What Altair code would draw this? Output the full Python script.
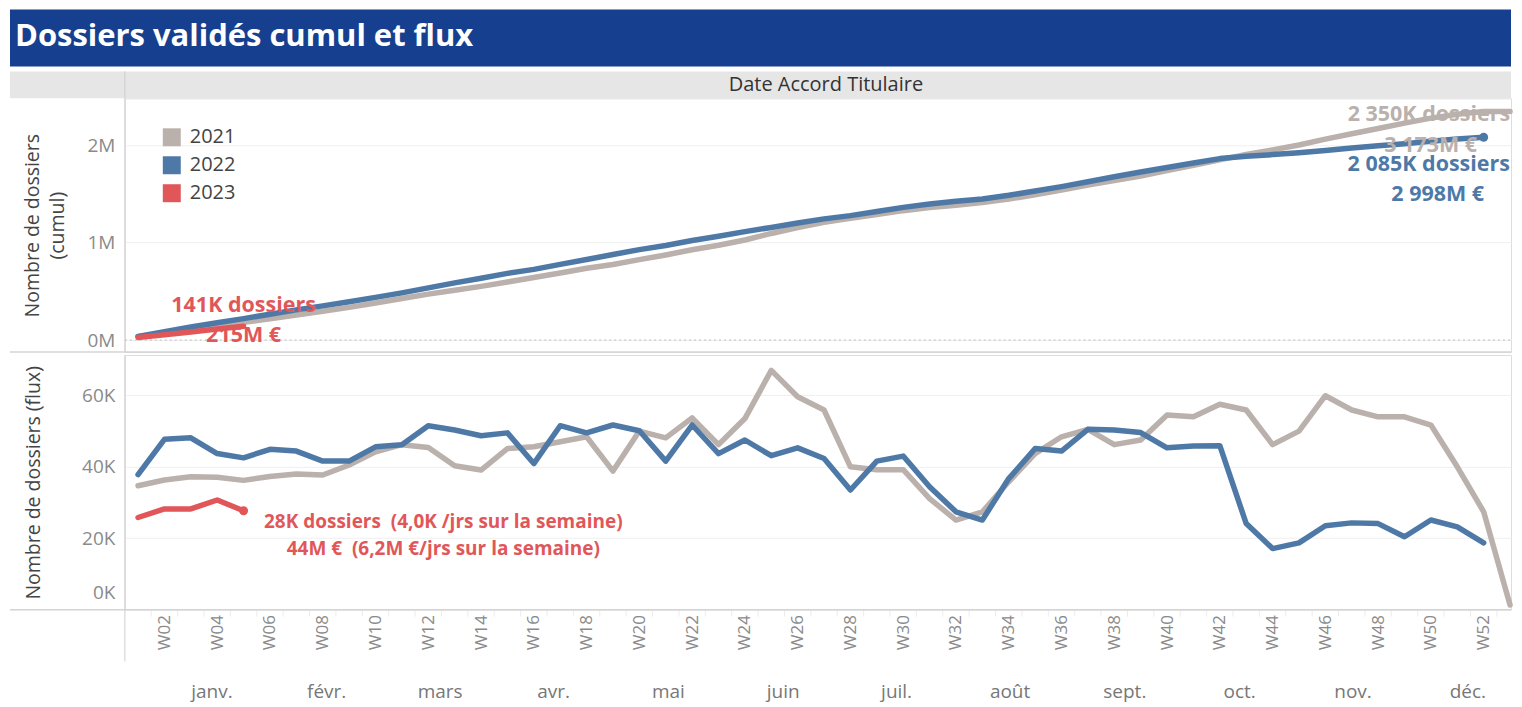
import altair as alt
import pandas as pd

# ---------------- data (in thousands of dossiers) ----------------
years = ["2021", "2022", "2023"]
colors = ["#BAB0AC", "#4E79A7", "#E15759"]

flux_2021 = [34.7, 36.3, 37.2, 37.1, 36.2, 37.3, 38.0, 37.7, 40.5, 44.2, 46.2, 45.4, 40.3, 39.1,
             45.1, 45.6, 47.0, 48.4, 38.8, 50.0, 48.1, 53.7, 46.2, 53.5, 67.0, 59.6, 55.9, 40.0,
             39.2, 39.2, 31.1, 25.1, 27.4,
             35.8, 43.7, 48.4, 50.5, 46.2, 47.5, 54.5, 54.0, 57.5, 55.9, 46.2, 50.0, 59.9, 55.9,
             54.0, 54.0, 51.7, 40.0, 27.4, 1.3]
flux_2022 = [37.8, 47.7, 48.1, 43.7, 42.5, 44.9, 44.4, 41.6, 41.6, 45.6, 46.2, 51.5, 50.3, 48.7,
             49.5, 40.9, 51.5, 49.5, 51.7, 50.1, 41.6, 51.7, 43.7, 47.5, 43.1, 45.3, 42.3, 33.5,
             41.6, 43.0, 34.4, 27.4, 25.1,
             36.7, 45.1, 44.4, 50.5, 50.3, 49.6, 45.3, 45.8, 45.9, 24.1, 17.1, 18.7, 23.5, 24.3,
             24.1, 20.4, 25.1, 23.2, 18.7]
flux_2023 = [25.8, 28.2, 28.2, 30.7, 27.7]

end_line1 = ["2 350K dossiers", "2 085K dossiers", "141K dossiers"]
end_line2 = ["3 173M €", "2 998M €", "215M €"]
flux_note = ["28K dossiers \u00a0(4,0K /jrs sur la semaine)", "44M € \u00a0(6,2M €/jrs sur la semaine)"]

month_labels = ["janv.", "févr.", "mars", "avr.", "mai", "juin", "juil.", "août", "sept.",
                "oct.", "nov.", "déc."]
month_pos = [3.8, 8.15, 12.45, 16.75, 21.1, 25.45, 29.75, 34.05, 38.4, 42.75, 47.05, 51.4]

cumul_ticks = [0, 1000000, 2000000]
flux_ticks = [0, 20000, 40000, 60000]
week_ticks = list(range(1, 54))
week_bounds = [w + 0.5 for w in range(1, 53)]

title_text = "Dossiers validés cumul et flux"
header_text = "Date Accord Titulaire"

# ---------------- tables ----------------
rows = []
for y, f in zip(years, [flux_2021, flux_2022, flux_2023]):
    for i, v in enumerate(f):
        rows.append({"year": y, "week": i + 1, "flux": v * 1000})
df = pd.DataFrame(rows)
df["cumul"] = df.groupby("year")["flux"].cumsum()
last = df[df["week"] == df.groupby("year")["week"].transform("max")].copy()
last["lab1"] = last["year"].map(dict(zip(years, end_line1)))
last["lab2"] = last["year"].map(dict(zip(years, end_line2)))
last["note1"] = flux_note[0]
last["note2"] = flux_note[1]
months = pd.DataFrame({"m": month_labels, "pos": month_pos})
bounds = pd.DataFrame({"b": week_bounds})
one = pd.DataFrame({"k": [0]})

# ---------------- layout ----------------
W, HT, HB = 1388, 254, 255
L, R = -115, 1388
FONT = "Open Sans"
WEEK_PX = 26.42

xsc = alt.Scale(domain=[0.5, 0.5 + W / WEEK_PX], nice=False, zero=False)
csc = alt.Scale(domain=years, range=colors)
ysc_top = alt.Scale(domain=[-123000, 2480000], nice=False, zero=False)
ysc_bot = alt.Scale(domain=[0, 71300], nice=False, zero=False)

x_top = alt.X("week:Q", scale=xsc, axis=None)
yax_top = alt.Axis(values=cumul_ticks, labelExpr="datum.value / 1000000 + 'M'",
                   title=["Nombre de dossiers", "(cumul)"], grid=True, gridColor="#efefef",
                   domain=False, ticks=False, labelFontSize=19, labelColor="#8a8a8a",
                   labelPadding=10, labelFont=FONT, titleFont=FONT, titleFontSize=19.5,
                   titleColor="#444", titleFontWeight="normal", titleAngle=270,
                   titleX=-101, titleY=HT / 2, titleAlign="center", titleBaseline="top",
                   titleLineHeight=25)
y_top = alt.Y("cumul:Q", scale=ysc_top, axis=yax_top)

# decorations of the top panel
title_bar = alt.Chart(one).mark_rect(color="#173F8F").encode(
    x=alt.value(L), x2=alt.value(R), y=alt.value(-89), y2=alt.value(-32))
title_txt = alt.Chart(one).mark_text(
    text=title_text, align="left", baseline="middle", font=FONT, fontWeight="bold",
    fontSize=31, color="white").encode(x=alt.value(L + 5), y=alt.value(-61))
header_bar = alt.Chart(one).mark_rect(color="#e6e6e6").encode(
    x=alt.value(L), x2=alt.value(R), y=alt.value(-27), y2=alt.value(0))
header_txt = alt.Chart(one).mark_text(
    text=header_text, align="center", baseline="middle", font=FONT, fontSize=20,
    color="#333").encode(x=alt.value(702), y=alt.value(-13))
divider_top = alt.Chart(one).mark_rule(color="#d0d0d0").encode(
    x=alt.value(0), y=alt.value(-27), y2=alt.value(HT))
sep_top = alt.Chart(one).mark_rule(color="#d4d4d4", strokeWidth=1.5).encode(
    x=alt.value(L), x2=alt.value(R), y=alt.value(HT))
zero_rule = alt.Chart(one).mark_rule(color="#bdbdbd", strokeDash=[2, 3]).encode(
    x=alt.value(0), x2=alt.value(W), y=alt.datum(0))

legend_top = alt.Legend(
    orient="none", legendX=37, legendY=29, title=None, symbolType="square",
    symbolSize=324, symbolStrokeWidth=0, symbolOpacity=1, labelFontSize=20,
    labelColor="#444", labelFont=FONT, rowPadding=8, labelOffset=8, padding=0)

legend_keys = alt.Chart(last).mark_square(filled=True, size=1, opacity=0).encode(
    x=x_top, y=y_top, color=alt.Color("year:N", scale=csc, legend=legend_top))

lines_top = alt.Chart(df).mark_line(strokeWidth=5.5, strokeCap="round", strokeJoin="round").encode(
    x=x_top, y=y_top, color=alt.Color("year:N", scale=csc, legend=None), detail="year:N")

dot_top = alt.Chart(last).transform_filter(alt.datum.year == "2022").mark_circle(
    size=80, opacity=1, color=colors[1]).encode(x=x_top, y=y_top)


def end_text(year, field, dx, dy, color, align="center"):
    return alt.Chart(last).transform_filter(alt.datum.year == year).mark_text(
        dx=dx, dy=dy, align=align, baseline="middle", font=FONT, fontWeight="bold",
        fontSize=21.5, color=color).encode(x=x_top, y=y_top, text=alt.Text(field + ":N"))


texts_top = [
    end_text("2021", "lab1", 0, 4, colors[0], "right"),
    end_text("2021", "lab2", -33, 35, colors[0], "right"),
    end_text("2022", "lab1", -55, 28, colors[1]),
    end_text("2022", "lab2", -46, 58, colors[1]),
    end_text("2023", "lab1", 0, -20, colors[2]),
    end_text("2023", "lab2", 0, 10, colors[2]),
]

top = alt.layer(title_bar, header_bar, title_txt, header_txt, divider_top, zero_rule,
                sep_top, legend_keys, lines_top, dot_top, *texts_top).properties(width=W, height=HT)

# ---------------- bottom panel ----------------
xax_bot = alt.Axis(values=week_ticks,
                   labelExpr="datum.value % 2 == 0 ? 'W' + (datum.value < 10 ? '0' : '') + datum.value : ''",
                   labelAngle=270, labelFontSize=17, labelColor="#8a8a8a", labelFont=FONT,
                   ticks=False, labelPadding=5, domain=False, grid=False, title=None)
x_bot = alt.X("week:Q", scale=xsc, axis=xax_bot)
yax_bot = alt.Axis(values=flux_ticks, labelExpr="datum.value / 1000 + 'K'",
                   title="Nombre de dossiers (flux)", grid=True, gridColor="#efefef",
                   domain=False, ticks=False, labelFontSize=19, labelColor="#8a8a8a",
                   labelPadding=10, labelFont=FONT, labelFlush=True, labelFlushOffset=-7,
                   titleFont=FONT, titleFontSize=19.5, titleColor="#444",
                   titleFontWeight="normal", titleAngle=270, titleX=-100, titleY=HB / 2,
                   titleAlign="center", titleBaseline="top")
y_bot = alt.Y("flux:Q", scale=ysc_bot, axis=yax_bot)

sep_bot = alt.Chart(one).mark_rule(color="#d4d4d4", strokeWidth=1.5).encode(
    x=alt.value(L), x2=alt.value(R), y=alt.value(HB))
divider_bot = alt.Chart(one).mark_rule(color="#d0d0d0").encode(
    x=alt.value(0), y=alt.value(0), y2=alt.value(HB + 52))
week_marks = alt.Chart(bounds).mark_rule(color="#ececec").encode(
    x=alt.X("b:Q", scale=xsc, axis=xax_bot), y=alt.value(HB), y2=alt.value(HB + 7))

lines_bot = alt.Chart(df).mark_line(strokeWidth=5.5, strokeCap="round", strokeJoin="round").encode(
    x=x_bot, y=y_bot, color=alt.Color("year:N", scale=csc, legend=None), detail="year:N")
dot_bot = alt.Chart(last).transform_filter(alt.datum.year == "2023").mark_circle(
    size=80, opacity=1, color=colors[2]).encode(x=x_bot, y=y_bot)
note1 = alt.Chart(last).transform_filter(alt.datum.year == "2023").mark_text(
    dx=200, dy=11, align="center", baseline="middle", font=FONT, fontWeight="bold",
    fontSize=19, color=colors[2]).encode(x=x_bot, y=y_bot, text="note1:N")
note2 = alt.Chart(last).transform_filter(alt.datum.year == "2023").mark_text(
    dx=200, dy=38, align="center", baseline="middle", font=FONT, fontWeight="bold",
    fontSize=19, color=colors[2]).encode(x=x_bot, y=y_bot, text="note2:N")
month_txt = alt.Chart(months).mark_text(
    baseline="middle", align="center", font=FONT, fontSize=19, color="#777").encode(
    x=alt.X("pos:Q", scale=xsc, axis=xax_bot), y=alt.value(337), text="m:N")

bottom = alt.layer(week_marks, sep_bot, divider_bot, lines_bot, dot_bot, note1, note2,
                   month_txt).properties(width=W, height=HB)

chart = alt.vconcat(top, bottom, spacing=0).resolve_scale(color="independent").resolve_legend(
    color="independent").properties(padding=0).configure_view(stroke=None).configure(font=FONT)

chart.save("out.html", embed_options={"renderer": "svg", "actions": False})
